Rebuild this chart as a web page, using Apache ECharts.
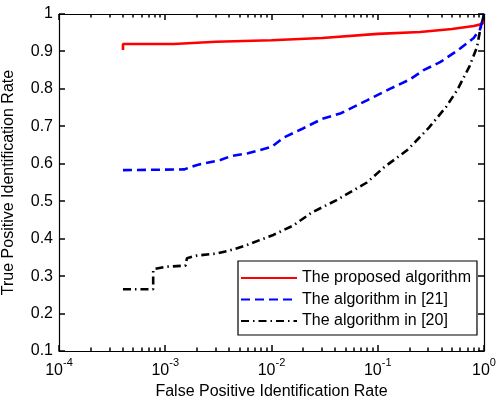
<!DOCTYPE html>
<html>
<head>
<meta charset="utf-8">
<script src="https://cdn.jsdelivr.net/npm/echarts@6/dist/echarts.min.js"></script>
<style>
  html, body { margin: 0; padding: 0; background: #fff; }
  #chart { width: 497px; height: 399px; }
</style>
</head>
<body>
<div id="chart"></div>
<script>
// ROC-style curves: false positive rate (log scale) vs. true positive rate
const proposedFpr = [4e-4, 4e-4, 1.2e-3, 1.2e-3, 3e-3, 1e-2, 3e-2, 0.1, 0.25, 0.5, 0.8, 0.95, 1];
const proposedTpr = [0.904, 0.920, 0.920, 0.924, 0.926, 0.930, 0.936, 0.947, 0.952, 0.960, 0.968, 0.973, 0.978];

const ref21Fpr = [4e-4, 1.5e-3, 2e-3, 3.3e-3, 4.1e-3, 6e-3, 1e-2, 1.3e-2, 2e-2, 3e-2, 4.5e-2, 8e-2, 0.13, 0.2, 0.27, 0.39, 0.58, 0.8, 0.92, 1];
const ref21Tpr = [0.583, 0.585, 0.597, 0.610, 0.620, 0.628, 0.645, 0.670, 0.695, 0.720, 0.735, 0.770, 0.800, 0.825, 0.850, 0.872, 0.905, 0.936, 0.960, 1.0];

const ref20Fpr = [4e-4, 7.7e-4, 7.7e-4, 1e-3, 1.55e-3, 1.6e-3, 2e-3, 3e-3, 4e-3, 5.5e-3, 1.04e-2, 1.6e-2, 2.4e-2, 4.1e-2, 7.9e-2, 0.114, 0.19, 0.3, 0.44, 0.56, 0.73, 0.86, 0.91, 1];
const ref20Tpr = [0.265, 0.265, 0.318, 0.325, 0.328, 0.348, 0.355, 0.360, 0.368, 0.380, 0.410, 0.435, 0.470, 0.503, 0.550, 0.590, 0.637, 0.695, 0.752, 0.797, 0.860, 0.912, 0.950, 1.0];

const seriesNames = ['The proposed algorithm', 'The algorithm in [21]', 'The algorithm in [20]'];

// tick positions
const xMajorTicks = [1e-4, 1e-3, 1e-2, 1e-1, 1];
const yTicks = [0.1, 0.2, 0.3, 0.4, 0.5, 0.6, 0.7, 0.8, 0.9, 1];
const xMinorTicks = [];
for (let d = -4; d < 0; d++) {
  for (let m = 2; m <= 9; m++) xMinorTicks.push(m * Math.pow(10, d));
}

const X_MIN = 1e-4, X_MAX = 1, Y_MIN = 0.1, Y_MAX = 1;
const FONT = 'Liberation Sans';
const pair = (xs, ys) => xs.map((x, i) => [x, ys[i]]);

function logLabel(v) {
  const e = Math.round(Math.log10(v));
  return '{b|10}{s|' + e + '}';
}

const axisLineStyle = { show: true, onZero: false, lineStyle: { color: '#000', width: 1.2 } };

const chart = echarts.init(document.getElementById('chart'), null, { renderer: 'canvas' });
chart.setOption({
  animation: false,
  backgroundColor: '#fff',
  grid: { left: 59, right: 13, top: 14, bottom: 48, containLabel: false, outerBoundsMode: 'none' },
  xAxis: [
    {
      type: 'log', logBase: 10, min: X_MIN, max: X_MAX, position: 'bottom',
      name: 'False Positive Identification Rate',
      nameLocation: 'middle', nameGap: 32,
      nameTextStyle: { fontFamily: FONT, fontSize: 16, color: '#000' },
      splitLine: { show: false },
      axisLine: axisLineStyle,
      axisTick: { show: false },
      axisLabel: {
        show: true, margin: 6,
        customValues: xMajorTicks,
        formatter: logLabel,
        rich: {
          b: { fontFamily: FONT, fontSize: 16, color: '#000', verticalAlign: 'bottom', padding: [6, 0, 0, 0] },
          s: { fontFamily: FONT, fontSize: 11, color: '#000', verticalAlign: 'top' }
        }
      }
    },
    {
      type: 'log', logBase: 10, min: X_MIN, max: X_MAX, position: 'top',
      splitLine: { show: false },
      axisLine: axisLineStyle,
      axisTick: { show: false },
      axisLabel: { show: false }
    }
  ],
  yAxis: [
    {
      type: 'value', min: Y_MIN, max: Y_MAX, interval: 0.1, position: 'left',
      name: 'True Positive Identification Rate',
      nameLocation: 'middle', nameGap: 42,
      nameTextStyle: { fontFamily: FONT, fontSize: 16, color: '#000' },
      splitLine: { show: false },
      axisLine: axisLineStyle,
      axisTick: { show: false },
      axisLabel: {
        show: true, margin: 6,
        fontFamily: FONT, fontSize: 16, color: '#000',
        formatter: v => (Math.abs(v - 1) < 1e-9 ? '1' : v.toFixed(1))
      }
    },
    {
      type: 'value', min: Y_MIN, max: Y_MAX, interval: 0.1, position: 'right',
      splitLine: { show: false },
      axisLine: axisLineStyle,
      axisTick: { show: false },
      axisLabel: { show: false }
    }
  ],
  legend: {
    orient: 'vertical',
    left: 238, top: 261,
    padding: [9, 6, 6, 2],
    itemWidth: 56, itemHeight: 14, itemGap: 5.5,
    backgroundColor: '#fff',
    borderColor: '#000', borderWidth: 1.2, borderRadius: 0,
    textStyle: { fontFamily: FONT, fontSize: 16, color: '#000' },
    itemStyle: { opacity: 0 },
    data: seriesNames,
    selectedMode: false,
    z: 10
  },
  series: [
    {
      name: seriesNames[0], type: 'line', symbol: 'none',
      data: pair(proposedFpr, proposedTpr),
      lineStyle: { color: '#ff0000', width: 2.6, type: 'solid', cap: 'butt' },
      itemStyle: { color: '#ff0000' }, z: 3
    },
    {
      name: seriesNames[1], type: 'line', symbol: 'none',
      data: pair(ref21Fpr, ref21Tpr),
      lineStyle: { color: '#0000ff', width: 2.6, type: [9, 5], cap: 'butt' },
      itemStyle: { color: '#0000ff' }, z: 4
    },
    {
      name: seriesNames[2], type: 'line', symbol: 'none',
      data: pair(ref20Fpr, ref20Tpr),
      lineStyle: { color: '#000', width: 2.6, type: [8, 4, 1.5, 4], cap: 'butt' },
      itemStyle: { color: '#000' }, z: 2
    }
  ]
});

// inward box ticks on all four sides, placed through the chart's own axis scales
function toPx(x, y) {
  return chart.convertToPixel({ xAxisIndex: 0, yAxisIndex: 0 }, [x, y]);
}
function tick(x1, y1, x2, y2) {
  return { type: 'line', z: 50, silent: true, shape: { x1, y1, x2, y2 }, style: { stroke: '#000', lineWidth: 1.5 } };
}
const ticks = [];
function addXTicks(values, len) {
  values.forEach(v => {
    const b = toPx(v, Y_MIN);
    const t = toPx(v, Y_MAX);
    const x = Math.round(b[0]);
    ticks.push(tick(x, b[1], x, b[1] - len));
    ticks.push(tick(x, t[1], x, t[1] + len));
  });
}
addXTicks(xMajorTicks, 6);
addXTicks(xMinorTicks, 3.5);
yTicks.forEach(v => {
  const l = toPx(X_MIN, v);
  const r = toPx(X_MAX, v);
  const y = Math.round(l[1]);
  ticks.push(tick(l[0], y, l[0] + 6, y));
  ticks.push(tick(r[0], y, r[0] - 6, y));
});
chart.setOption({ graphic: { elements: ticks } });
</script>
</body>
</html>
